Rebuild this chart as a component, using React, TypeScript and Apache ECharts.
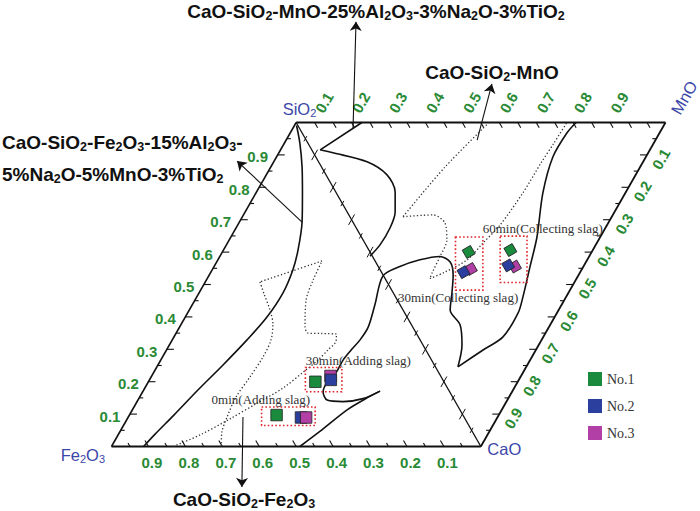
import React, { useEffect, useRef } from "react";
import * as echarts from "echarts";

const H = Math.sqrt(3) / 2;

// ---------- data (diagram units: side of triangle = 1) ----------
const minorTicks = [0.05, 0.15, 0.25, 0.35, 0.45, 0.55, 0.65, 0.75, 0.85, 0.95];
const majorTicks = [0.1, 0.2, 0.3, 0.4, 0.5, 0.6, 0.7, 0.8, 0.9];
const tickLabels = ["0.1", "0.2", "0.3", "0.4", "0.5", "0.6", "0.7", "0.8", "0.9"];

// solid boundary of CaO-SiO2-Fe2O3-15%Al2O3-5%Na2O-5%MnO-3%TiO2
const solidFeSystem = [
  [[0.501, 0.858], [0.51, 0.811], [0.516, 0.747], [0.517, 0.678], [0.516, 0.6], [0.505, 0.525], [0.491, 0.472], [0.464, 0.41], [0.421, 0.346], [0.367, 0.285], [0.302, 0.218], [0.234, 0.151], [0.169, 0.084], [0.118, 0.033], [0.087, 0]],
];

// dotted boundary of CaO-SiO2-Fe2O3
const dottedFe = [
  [[0.167, 0], [0.24, 0.031], [0.321, 0.074], [0.391, 0.114], [0.464, 0.156], [0.527, 0.205], [0.559, 0.231], [0.586, 0.258], [0.608, 0.282], [0.609, 0.301]],
  [[0.609, 0.301], [0.57, 0.302], [0.532, 0.303], [0.524, 0.322], [0.527, 0.392], [0.546, 0.445], [0.57, 0.496]],
  [[0.57, 0.496], [0.402, 0.44]],
  [[0.402, 0.44], [0.413, 0.408], [0.429, 0.365], [0.437, 0.328], [0.432, 0.285], [0.41, 0.239], [0.375, 0.186], [0.337, 0.132], [0.313, 0.079], [0.299, 0.039], [0.297, 0]],
];

// long solid boundary crossing both triangles
const solidLong = [
  [[0.51, 0], [0.565, 0.041], [0.638, 0.098], [0.692, 0.13], [0.727, 0.148]],
  [[0.727, 0.148], [0.681, 0.128], [0.627, 0.12], [0.584, 0.124], [0.573, 0.146], [0.584, 0.172], [0.609, 0.199], [0.627, 0.231], [0.649, 0.258], [0.673, 0.285], [0.695, 0.319], [0.713, 0.378], [0.735, 0.456], [0.781, 0.481], [0.835, 0.499], [0.889, 0.508], [0.917, 0.493], [0.925, 0.458], [0.922, 0.413], [0.917, 0.365], [0.944, 0.325], [0.949, 0.271], [0.938, 0.213]],
  [[0.938, 0.213], [1.006, 0.258], [1.06, 0.293], [1.101, 0.357], [1.114, 0.4], [1.133, 0.48], [1.152, 0.56], [1.168, 0.678], [1.195, 0.774], [1.233, 0.838], [1.258, 0.866]],
];

// solid boundary of CaO-SiO2-MnO-25%Al2O3-3%Na2O-3%TiO2
const solidMnSystem = [
  [[0.678, 0.866], [0.565, 0.793]],
  [[0.565, 0.793], [0.6, 0.785], [0.692, 0.761], [0.746, 0.726], [0.768, 0.68], [0.768, 0.627], [0.754, 0.584], [0.727, 0.539], [0.7, 0.509]],
];

// dotted boundary of CaO-SiO2-MnO
const dottedMn = [
  [[1.022, 0.866], [0.903, 0.747], [0.789, 0.614]],
  [[0.789, 0.614], [0.871, 0.619], [0.903, 0.597], [0.908, 0.552], [0.889, 0.507], [0.868, 0.464], [0.862, 0.449]],
  [[0.862, 0.449], [0.898, 0.464], [0.963, 0.499], [1.006, 0.544], [1.052, 0.592], [1.114, 0.678], [1.163, 0.758], [1.198, 0.811], [1.233, 0.866]],
];

// annotation arrows [tail, head]
const arrows = [
  [[0.654, 0.851], [0.662, 1.135]],
  [[0.99, 0.819], [1.03, 0.969]],
  [[0.516, 0.6], [0.34, 0.763]],
  [[0.356, 0.079], [0.353, -0.108]],
];

// sample compositions at the four stages
const stages = ["0min(Adding slag)", "30min(Adding slag)", "30min(Collecting slag)", "60min(Collecting slag)"];
const no1 = [[0.447, 0.084], [0.552, 0.173], [0.967, 0.52], [1.08, 0.525]];
const no2 = [[0.513, 0.0775], [0.594, 0.178], [0.953, 0.466], [1.074, 0.484]];
const no3 = [[0.527, 0.0775], [0.593, 0.1885], [0.973, 0.4745], [1.0925, 0.481]];

// ---------- styles ----------
const SANS = "'Liberation Sans', Arial, sans-serif";
const SERIF = "'Liberation Serif', 'Times New Roman', serif";
const GREEN = "#2a8a35";
const BLUE = "#3c46a8";
const C1 = "#1a8a3c";
const C2 = "#2b3f9e";
const C3 = "#b23fa5";
const stageRotate = [0, 0, 30, 30];
const stageSize = [11.5, 11.5, 9.5, 9.5];
// box padding in px [left, right, top, bottom]
const stagePad = [[15, 9, 8, 8], [10, 11, 8.5, 10], [8, 12, 15, 18], [8, 12, 14, 16]];
// label offset from box top-left, px
const stageLabelOff = [[-50, -7.5], [0.5, -7], [-57.5, 61], [-17.5, -7.5]];

function chemRich(str: string) {
  let out = "";
  let buf = "";
  let mode = "n";
  for (let i = 0; i < str.length; i++) {
    const ch = str[i];
    const prev = i > 0 ? str[i - 1] : "";
    const m = /[0-9]/.test(ch) && /[A-Za-z]/.test(prev) ? "s" : "n";
    if (m !== mode && buf) {
      out += `{${mode}|${buf}}`;
      buf = "";
    }
    mode = m;
    buf += ch;
  }
  if (buf) out += `{${mode}|${buf}}`;
  return out;
}

const titleRich = {
  n: { fontFamily: SANS, fontSize: 19, fontWeight: "bold", fill: "#111", lineHeight: 22 },
  s: { fontFamily: SANS, fontSize: 12.5, fontWeight: "bold", fill: "#111", lineHeight: 12, verticalAlign: "bottom" },
};
const vertexRich = {
  n: { fontFamily: SANS, fontSize: 16.5, fill: BLUE, lineHeight: 20 },
  s: { fontFamily: SANS, fontSize: 11, fill: BLUE, lineHeight: 10, verticalAlign: "bottom" },
};

function frameRender(_params: any, api: any) {
  const P = (x: number, y: number) => api.coord([x, y]);
  const fe = P(0, 0), ca = P(1, 0), si = P(0.5, H), mn = P(1.5, H);
  const unit = (a: number[], b: number[]) => {
    const dx = b[0] - a[0], dy = b[1] - a[1];
    const l = Math.hypot(dx, dy);
    return [dx / l, dy / l];
  };
  const ch: any[] = [];
  const line = (a: number[], b: number[], w: number) =>
    ch.push({ type: "line", shape: { x1: a[0], y1: a[1], x2: b[0], y2: b[1] }, style: { stroke: "#111", lineWidth: w } });
  const label = (p: number[], text: string, rot: number) =>
    ch.push({
      type: "text", x: p[0], y: p[1], rotation: rot,
      style: { text, fill: GREEN, fontFamily: SANS, fontSize: 15, fontWeight: "bold", align: "center", verticalAlign: "middle" },
    });
  line(fe, ca, 2.2);
  line(fe, si, 1.6);
  line(si, mn, 2.0);
  line(mn, ca, 1.8);
  line(si, ca, 1.3);

  const all = [...minorTicks, ...majorTicks];
  const dirB = unit(ca, si);
  const dirT = unit(si, ca);
  const dirD = unit(fe, si);
  all.forEach((v) => {
    const major = majorTicks.includes(v);
    const len = major ? 7 : 4;
    // left edge (SiO2)
    let p = P(0.5 * v, H * v);
    line(p, [p[0] + len, p[1]], 1.1);
    // bottom edge (Fe2O3)
    p = P(1 - v, 0);
    line(p, [p[0] + dirB[0] * len, p[1] + dirB[1] * len], 1.1);
    // top edge (MnO)
    p = P(0.5 + v, H);
    line(p, [p[0] + dirT[0] * 6, p[1] + dirT[1] * 6], 1.1);
    // right edge (CaO)
    p = P(1.5 - 0.5 * v, H * (1 - v));
    line(p, [p[0] - len, p[1]], 1.1);
    // diagonal
    p = P(0.5 + 0.5 * v, H * (1 - v));
    const h = major ? 6 : 3;
    line([p[0] - dirD[0] * h, p[1] - dirD[1] * h], [p[0] + dirD[0] * h, p[1] + dirD[1] * h], 1.0);
  });
  majorTicks.forEach((v, i) => {
    const t = tickLabels[i];
    let p = P(0.5 * v, H * v);
    label([p[0] - 20, p[1] + 2], t, 0);
    p = P(1 - v, 0);
    label([p[0] + 3.5, p[1] + 15.5], t, 0);
    p = P(0.5 + v, H);
    label([p[0] - 9, p[1] - 20], t, Math.PI / 3);
    p = P(1.5 - 0.5 * v, H * (1 - v));
    label([p[0] + 14, p[1] + 4], t, Math.PI / 3);
  });
  const vtx = (p: number[], text: string, align: string, rot: number) =>
    ch.push({ type: "text", x: p[0], y: p[1], rotation: rot, style: { text: chemRich(text), rich: vertexRich, align, verticalAlign: "middle" } });
  vtx([si[0] - 13.5, si[1] - 14], "SiO2", "left", 0);
  vtx([fe[0] - 6.5, fe[1] + 8], "Fe2O3", "right", 0);
  vtx([ca[0] + 6.5, ca[1] + 2.5], "CaO", "left", 0);
  vtx([mn[0] + 18.5, mn[1] - 25], "MnO", "center", Math.PI / 3);
  return { type: "group", children: ch };
}

function boxRender(params: any, api: any) {
  const i = params.dataIndex;
  const pts = [no1[i], no2[i], no3[i]].map((d) => api.coord(d));
  const xs = pts.map((p) => p[0]);
  const ys = pts.map((p) => p[1]);
  const pad = stagePad[i];
  const x1 = Math.min(...xs) - pad[0];
  const x2 = Math.max(...xs) + pad[1];
  const y1 = Math.min(...ys) - pad[2];
  const y2 = Math.max(...ys) + pad[3];
  const off = stageLabelOff[i];
  return {
    type: "group",
    children: [
      { type: "rect", shape: { x: x1, y: y1, width: x2 - x1, height: y2 - y1 }, style: { fill: "none", stroke: "#e0242a", lineWidth: 1.6, lineDash: [1.6, 2.2] } },
      { type: "text", x: x1 + off[0], y: y1 + off[1], style: { text: stages[i], fill: "#333", fontFamily: SERIF, fontSize: 13, align: "left", verticalAlign: "middle" } },
    ],
  };
}

function curveSeries(segs: number[][][], dotted: boolean) {
  return segs.map((seg) => ({
    type: "line",
    data: seg,
    showSymbol: false,
    symbol: "none",
    smooth: 0.3,
    silent: true,
    clip: false,
    z: 3,
    lineStyle: dotted ? { color: "#333", width: 1.3, type: [1.3, 2.2] } : { color: "#111", width: 1.6, type: "solid" },
  }));
}

function scatter(name: string, data: number[][], idx: number[], color: string, z: number) {
  return {
    type: "scatter",
    name,
    z,
    symbol: "rect",
    data: idx.map((k) => ({ value: data[k], symbolRotate: stageRotate[k], symbolSize: stageSize[k] })),
    itemStyle: { color, borderColor: "#222", borderWidth: 0.8, opacity: 1 },
  };
}

export default function App() {
  const ref = useRef<HTMLDivElement>(null);
  useEffect(() => {
    if (!ref.current) return;
    const chart = echarts.init(ref.current, null, { renderer: "svg" });
    const option: any = {
      animation: false,
      backgroundColor: "#fff",
      grid: { left: 111.5, right: 34.5, top: 122.5, bottom: 64.5, containLabel: false },
      xAxis: { type: "value", min: 0, max: 1.5, show: false },
      yAxis: { type: "value", min: 0, max: H, show: false },
      legend: {
        data: ["No.1", "No.2", "No.3"],
        orient: "vertical",
        left: 588,
        top: 372,
        padding: 0,
        itemWidth: 14,
        itemHeight: 14,
        itemGap: 13,
        icon: "rect",
        itemStyle: { borderWidth: 0 },
        textStyle: { fontFamily: SERIF, fontSize: 14, color: "#333" },
        selectedMode: false,
      },
      graphic: [
        { type: "text", x: 376, y: 11, style: { text: chemRich("CaO-SiO2-MnO-25%Al2O3-3%Na2O-3%TiO2"), rich: titleRich, align: "center", verticalAlign: "middle" } },
        { type: "text", x: 492, y: 72, style: { text: chemRich("CaO-SiO2-MnO"), rich: titleRich, align: "center", verticalAlign: "middle" } },
        { type: "text", x: 2, y: 142, style: { text: chemRich("CaO-SiO2-Fe2O3-15%Al2O3-"), rich: titleRich, align: "left", verticalAlign: "middle" } },
        { type: "text", x: 2, y: 174, style: { text: chemRich("5%Na2O-5%MnO-3%TiO2"), rich: titleRich, align: "left", verticalAlign: "middle" } },
        { type: "text", x: 244, y: 499, style: { text: chemRich("CaO-SiO2-Fe2O3"), rich: titleRich, align: "center", verticalAlign: "middle" } },
      ],
      series: [
        { type: "custom", renderItem: frameRender, data: [[0, 0]], z: 2, silent: true },
        ...curveSeries(solidFeSystem, false),
        ...curveSeries(dottedFe, true),
        ...curveSeries(solidLong, false),
        ...curveSeries(solidMnSystem, false),
        ...curveSeries(dottedMn, true),
        {
          type: "lines",
          coordinateSystem: "cartesian2d",
          data: arrows.map((a) => ({ coords: a })),
          symbol: ["none", "arrow"],
          symbolSize: [6, 9],
          clip: false,
          silent: true,
          z: 3,
          lineStyle: { color: "#111", width: 1.1, opacity: 1 },
        },
        { type: "custom", renderItem: boxRender, data: stages.map(() => [0, 0]), z: 4, silent: true },
        scatter("No.1", no1, [0, 1, 2, 3], C1, 5),
        scatter("No.3", no3, [1, 2, 3], C3, 5),
        scatter("No.2", no2, [0, 1, 2, 3], C2, 5),
        scatter("No.3", no3, [0], C3, 5),
      ],
    };
    chart.setOption(option);
    return () => chart.dispose();
  }, []);
  return <div ref={ref} style={{ position: "absolute", left: 0, top: 0, width: 700, height: 511 }} />;
}
